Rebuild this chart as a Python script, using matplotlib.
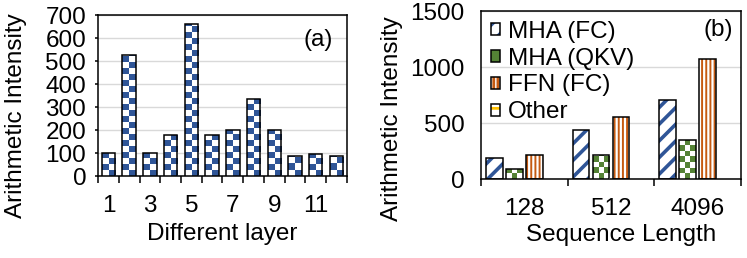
import numpy as np
import matplotlib
matplotlib.use("Agg")
import matplotlib.pyplot as plt
from matplotlib.colors import ListedColormap
from matplotlib.patches import Patch

# ── Data ───────────────────────────────────────────────────────────────────────

LAYERS      = list(range(1, 13))
LAYER_AI    = [100, 525, 100, 180, 663, 180, 200, 333, 200, 87, 94, 87]
LAYER_TICKS = [1, 3, 5, 7, 9, 11]

SEQ_LENGTHS  = ["128", "512", "4096"]
MHA_FC       = [190, 437, 705]
MHA_QKV      = [92, 217, 351]
FFN_FC       = [214, 556, 1068]
OTHER        = [0, 0, 0]
SERIES_NAMES = ["MHA (FC)", "MHA (QKV)", "FFN (FC)", "Other"]

# ── Style ──────────────────────────────────────────────────────────────────────

BLUE   = "#2F5597"
GREEN  = "#548235"
ORANGE = "#C55A11"
YELLOW = "#FFC000"
GRID   = "#D9D9D9"
EDGE_W = 1.1

plt.rcParams["font.family"] = ["Liberation Sans", "DejaVu Sans"]
plt.rcParams["font.size"] = 17.5
plt.rcParams["hatch.linewidth"] = 2.0


def checker_fill(ax, bars, color, ncols, cell_h):
    """Paint a checkerboard inside each bar (clipped to the bar)."""
    cmap = ListedColormap(["white", color])
    for b in bars:
        x0, w, h = b.get_x(), b.get_width(), b.get_height()
        if h <= 0:
            continue
        nrows = int(np.ceil(h / cell_h))
        grid = np.add.outer(np.arange(nrows), np.arange(ncols)) % 2
        im = ax.imshow(grid, cmap=cmap, vmin=0, vmax=1, origin="lower",
                       interpolation="nearest", aspect="auto", zorder=3,
                       extent=(x0, x0 + w, 0, nrows * cell_h))
        im.set_clip_path(b)


def set_hatch_lw(patches, lw):
    for p in patches:
        if hasattr(p, "set_hatch_linewidth"):
            p.set_hatch_linewidth(lw)


def style_axes(ax):
    for s in ax.spines.values():
        s.set_linewidth(EDGE_W)
        s.set_color("black")
    ax.yaxis.grid(True, color=GRID, linewidth=1.0)
    ax.set_axisbelow(True)


fig = plt.figure(figsize=(7.47, 2.58), dpi=100)

# ── (a) per-layer arithmetic intensity ─────────────────────────────────────────

ax1 = fig.add_axes([0.1312, 0.3178, 0.3333, 0.624])
style_axes(ax1)
bw = 0.64
base = ax1.bar(LAYERS, LAYER_AI, bw, color="white", linewidth=0, zorder=2)
checker_fill(ax1, base, BLUE, 2, 26)
ax1.bar(LAYERS, LAYER_AI, bw, fill=False, edgecolor="black",
        linewidth=EDGE_W, zorder=4)

ax1.set_xlim(0.5, 12.5)
ax1.set_ylim(0, 700)
ax1.set_yticks(range(0, 701, 100))
ax1.set_xticks(np.arange(0.5, 13, 1))
ax1.set_xticklabels([])
ax1.set_xticks(LAYER_TICKS, labels=[str(v) for v in LAYER_TICKS], minor=True)
ax1.tick_params(axis="x", which="major", length=5, width=EDGE_W)
ax1.tick_params(axis="x", which="minor", length=0, pad=14)
ax1.tick_params(axis="y", length=2.5, width=EDGE_W, pad=6)
ax1.set_xlabel("Different layer")
ax1.xaxis.set_label_coords(0.5, -0.29)
ax1.set_ylabel("Arithmetic Intensity")
ax1.yaxis.set_label_coords(-0.285, 0.373)
ax1.text(0.944, 0.845, "(a)", transform=ax1.transAxes, ha="right", va="center")

# ── (b) per-operator intensity vs sequence length ─────────────────────────────

ax2 = fig.add_axes([0.6439, 0.3062, 0.348, 0.651])
style_axes(ax2)
x = np.arange(len(SEQ_LENGTHS))
w = 0.19
step = 0.23
offsets = [-1.5 * step, -0.5 * step, 0.5 * step, 1.5 * step]

fc = ax2.bar(x + offsets[0], MHA_FC, w, color="white", edgecolor=BLUE,
             linewidth=0, hatch="//", zorder=2)
set_hatch_lw(fc, 2.6)
qkv = ax2.bar(x + offsets[1], MHA_QKV, w, color="white", linewidth=0, zorder=2)
checker_fill(ax2, qkv, GREEN, 3, 50)
ffn = ax2.bar(x + offsets[2], FFN_FC, w, color="white", edgecolor=ORANGE,
              linewidth=0, hatch="||||", zorder=2)
set_hatch_lw(ffn, 1.4)
oth = ax2.bar(x + offsets[3], OTHER, w, color="white", edgecolor=YELLOW,
              linewidth=0, hatch="-", zorder=2)
for vals, off in zip([MHA_FC, MHA_QKV, FFN_FC], offsets):
    ax2.bar(x + off, vals, w, fill=False, edgecolor="black",
            linewidth=EDGE_W, zorder=4)

ax2.set_xlim(-0.5, 2.5)
ax2.set_ylim(0, 1500)
ax2.set_yticks([0, 500, 1000, 1500])
ax2.set_xticks(np.arange(-0.5, 3, 1))
ax2.set_xticklabels([])
ax2.set_xticks(x, labels=SEQ_LENGTHS, minor=True)
ax2.tick_params(axis="x", which="major", length=5, width=EDGE_W)
ax2.tick_params(axis="x", which="minor", length=0, pad=14)
ax2.tick_params(axis="y", length=0, pad=12)
ax2.set_xlabel("Sequence Length")
ax2.xaxis.set_label_coords(0.54, -0.27)
ax2.set_ylabel("Arithmetic Intensity")
ax2.yaxis.set_label_coords(-0.30, 0.36)
ax2.text(0.969, 0.887, "(b)", transform=ax2.transAxes, ha="right", va="center")

outline = dict(fill=False, edgecolor="black", linewidth=EDGE_W)
fc_h = Patch(facecolor="white", edgecolor=BLUE, linewidth=0, hatch="//")
ffn_h = Patch(facecolor="white", edgecolor=ORANGE, linewidth=0, hatch="||||")
set_hatch_lw([fc_h], 2.6)
set_hatch_lw([ffn_h], 1.4)
handles = [
    (fc_h, Patch(**outline)),
    Patch(facecolor=GREEN, edgecolor="black", linewidth=EDGE_W),
    (ffn_h, Patch(**outline)),
    (Patch(facecolor="white", edgecolor=YELLOW, linewidth=0, hatch="-"), Patch(**outline)),
]
ax2.legend(handles, SERIES_NAMES, loc="upper left", bbox_to_anchor=(0.0, 1.0),
           frameon=False, handlelength=0.4, handleheight=0.4,
           handletextpad=0.3, labelspacing=0.2, borderaxespad=0.2,
           borderpad=0.2)

fig.savefig("out.png", dpi=100)
